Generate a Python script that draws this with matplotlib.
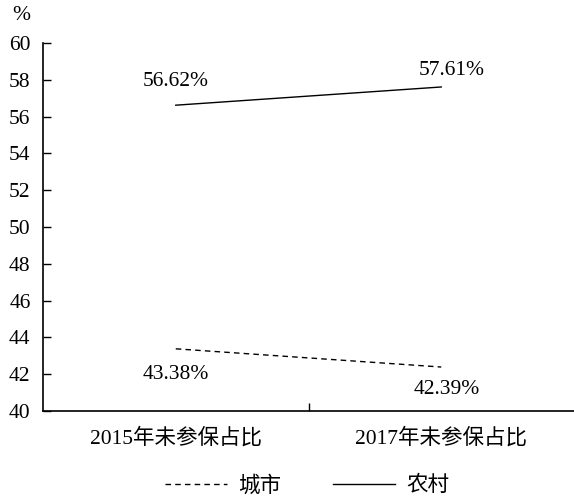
import matplotlib.pyplot as plt
from matplotlib.lines import Line2D

plt.rcParams['font.family'] = ['Liberation Serif', 'Noto Sans CJK SC']
plt.rcParams['font.size'] = 15.5

categories = ['2015年未参保占比', '2017年未参保占比']
city = [43.38, 42.39]
rural = [56.62, 57.61]
yticks = list(range(40, 61, 2))

fig = plt.figure(figsize=(5.74, 4.96), dpi=100)
ax = fig.add_axes([43 / 574, 1 - 411 / 496, 1 - 43 / 574, 368 / 496])

xs = [0.5, 1.5]
ax.plot(xs, city, color='black', lw=1.0, linestyle=(0, (4, 3)))
ax.plot(xs, rural, color='black', lw=1.0)

# value labels
ax.text(xs[0], rural[0] + 1.3, f'{rural[0]:.2f}%', ha='center', va='center')
ax.text(xs[1] + 0.04, rural[1] + 0.9, f'{rural[1]:.2f}%', ha='center', va='center')
ax.text(xs[0], city[0] - 1.4, f'{city[0]:.2f}%', ha='center', va='center')
ax.text(xs[1] + 0.02, city[1] - 1.2, f'{city[1]:.2f}%', ha='center', va='center')

ax.set_xlim(0, 2)
ax.set_ylim(40, 60)
ax.set_yticks(yticks)
ax.set_xticks([1])
ax.set_xticklabels([''])
for x, lab in zip(xs, categories):
    ax.text(x, -0.075, lab, transform=ax.get_xaxis_transform(), ha='center', va='center')

ax.tick_params(axis='both', direction='in', length=6, width=1, pad=8)
ax.tick_params(axis='y', pad=9)
for s in ['top', 'right']:
    ax.spines[s].set_visible(False)
for s in ['left', 'bottom']:
    ax.spines[s].set_linewidth(1.2)

ax.text(-0.058, 1.075, '%', transform=ax.transAxes, ha='left', va='center')

handles = [Line2D([], [], color='black', lw=1.0, linestyle=(0, (4, 3))),
           Line2D([], [], color='black', lw=1.0)]
fig.legend(handles, ['城市', '农村'], loc='center', bbox_to_anchor=(0.535, 0.02),
           ncol=2, frameon=False, handlelength=2.9, columnspacing=2.4, handletextpad=0.5)

fig.savefig('out.png', dpi=100)
